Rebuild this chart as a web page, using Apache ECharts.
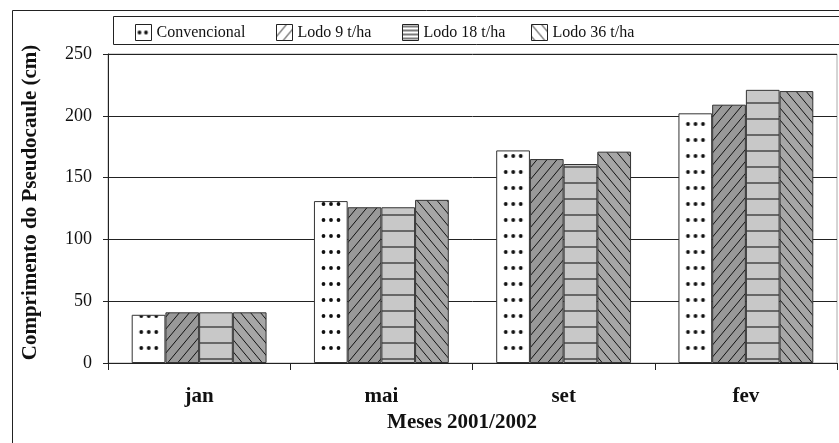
<!DOCTYPE html>
<html>
<head>
<meta charset="utf-8">
<script src="https://cdn.jsdelivr.net/npm/echarts@6/dist/echarts.min.js"></script>
<style>
    body { margin: 0; background: white; }
    #chart { width: 839px; height: 443px; }
</style>
</head>
<body>
<div id="chart"></div>
<script>
    // data
    var categories = ['jan', 'mai', 'set', 'fev'];
    var convencional = [39, 131, 172, 202];
    var lodo9 = [41, 126, 165, 209];
    var lodo18 = [41, 126, 161, 221];
    var lodo36 = [41, 132, 171, 220];
    var seriesNames = ['Convencional', 'Lodo 9 t/ha', 'Lodo 18 t/ha', 'Lodo 36 t/ha'];

    var serif = '"Liberation Serif", "Times New Roman", serif';

    // pattern tiles
    function tile(w, h, bg, draw, x, y) {
        var c = document.createElement('canvas');
        c.width = w;
        c.height = h;
        var ctx = c.getContext('2d');
        ctx.fillStyle = bg;
        ctx.fillRect(0, 0, w, h);
        ctx.strokeStyle = '#111';
        ctx.fillStyle = '#111';
        ctx.lineWidth = 1;
        draw(ctx, w, h);
        return { image: c, repeat: 'repeat', x: x || 0, y: y || 0 };
    }
    // three dots per row, tile as wide as a bar
    function dots(bg, x, y) {
        return tile(34, 16, bg, function (ctx) {
            [9.5, 17, 24.5].forEach(function (dx) {
                ctx.beginPath();
                ctx.arc(dx, 8, 1.9, 0, Math.PI * 2);
                ctx.fill();
            });
        }, x, y);
    }
    function legendDots() {
        return tile(16, 16, '#ffffff', function (ctx) {
            [4, 10.5].forEach(function (dx) {
                ctx.beginPath();
                ctx.arc(dx, 8, 1.9, 0, Math.PI * 2);
                ctx.fill();
            });
        });
    }
    function slash(bg) {
        return tile(10, 12, bg, function (ctx, w, h) {
            ctx.beginPath();
            for (var k = -1; k <= 1; k++) {
                ctx.moveTo(k * w - w / h, h + 1);
                ctx.lineTo(k * w + w + w / h, -1);
            }
            ctx.stroke();
        });
    }
    function backslash(bg) {
        return tile(10, 12, bg, function (ctx, w, h) {
            ctx.beginPath();
            for (var k = -1; k <= 1; k++) {
                ctx.moveTo(k * w - w / h, -1);
                ctx.lineTo(k * w + w + w / h, h + 1);
            }
            ctx.stroke();
        });
    }
    function hlines(bg, gap, y) {
        return tile(4, gap, bg, function (ctx, w, h) {
            ctx.strokeStyle = '#333';
            ctx.lineWidth = 1.3;
            ctx.beginPath();
            ctx.moveTo(0, h / 2);
            ctx.lineTo(w, h / 2);
            ctx.stroke();
        }, 0, y);
    }

    var values = [convencional, lodo9, lodo18, lodo36];
    var legendLeft = [130, 271, 397, 526];
    var legendTop = 19;
    var legendFills = [legendDots(), slash('#ffffff'), hlines('#ffffff', 4, 0), backslash('#ffffff')];

    var chart = echarts.init(document.getElementById('chart'));

    chart.setOption({
        animation: false,
        backgroundColor: 'white',
        graphic: [
            { type: 'rect', shape: { x: 12.5, y: 10.5, width: 900, height: 500 },
              style: { fill: 'none', stroke: '#222', lineWidth: 1 }, z: -1 },
            { type: 'rect', shape: { x: 113.5, y: 16.5, width: 800, height: 28 },
              style: { fill: 'none', stroke: '#222', lineWidth: 1 }, z: -1 }
        ],
        legend: seriesNames.map(function (n, i) {
            return {
                left: legendLeft[i],
                top: legendTop,
                itemWidth: 16,
                itemHeight: 16,
                icon: 'rect',
                textStyle: { fontFamily: serif, fontSize: 16, color: '#111' },
                data: [{ name: n, itemStyle: { color: legendFills[i], borderColor: '#222', borderWidth: 1 } }]
            };
        }),
        grid: {
            left: 108,
            top: 54,
            right: 2,
            bottom: 80,
            show: true,
            borderColor: '#aaa',
            borderWidth: 1
        },
        xAxis: {
            type: 'category',
            data: categories,
            name: 'Meses 2001/2002',
            nameLocation: 'middle',
            nameGap: 46,
            nameTextStyle: { fontFamily: serif, fontSize: 21, fontWeight: 'bold', color: '#111', padding: [0, 21, 0, 0] },
            axisLine: { lineStyle: { color: '#222', width: 1 } },
            axisTick: { show: true, length: 7, lineStyle: { color: '#222' } },
            axisLabel: { fontFamily: serif, fontSize: 21, fontWeight: 'bold', color: '#111', margin: 23 }
        },
        yAxis: {
            type: 'value',
            min: 0,
            max: 250,
            interval: 50,
            name: 'Comprimento do Pseudocaule (cm)',
            nameLocation: 'middle',
            nameGap: 67,
            nameTextStyle: { fontFamily: serif, fontSize: 21, fontWeight: 'bold', color: '#111', padding: [0, 0, 0, 12] },
            axisLine: { show: true, lineStyle: { color: '#222', width: 1 } },
            axisTick: { show: true, length: 5, lineStyle: { color: '#222' } },
            axisLabel: { fontFamily: serif, fontSize: 18, color: '#111', margin: 16 },
            splitLine: { lineStyle: { color: '#222', width: 1 } }
        },
        series: seriesNames.map(function (n, i) {
            return {
                name: n,
                type: 'bar',
                data: values[i],
                barGap: '0%',
                barCategoryGap: '26%',
                itemStyle: { color: '#fff', borderColor: '#333', borderWidth: 1 }
            };
        })
    });

    // anchor the fill patterns to each bar, like the original chart does
    var base = chart.convertToPixel({ yAxisIndex: 0 }, 0);
    chart.setOption({
        series: seriesNames.map(function (n, i) {
            var layoutData = chart.getModel().getSeriesByIndex(i).getData();
            return {
                data: values[i].map(function (v, j) {
                    var box = layoutData.getItemLayout(j);
                    var fill;
                    if (i === 0) fill = dots('#ffffff', box.x, base - 15 - 8);
                    else if (i === 1) fill = slash('#999999');
                    else if (i === 2) fill = hlines('#c8c8c8', 16, base - 4 - 8);
                    else fill = backslash('#a6a6a6');
                    return { value: v, itemStyle: { color: fill } };
                })
            };
        })
    });
</script>
</body>
</html>
